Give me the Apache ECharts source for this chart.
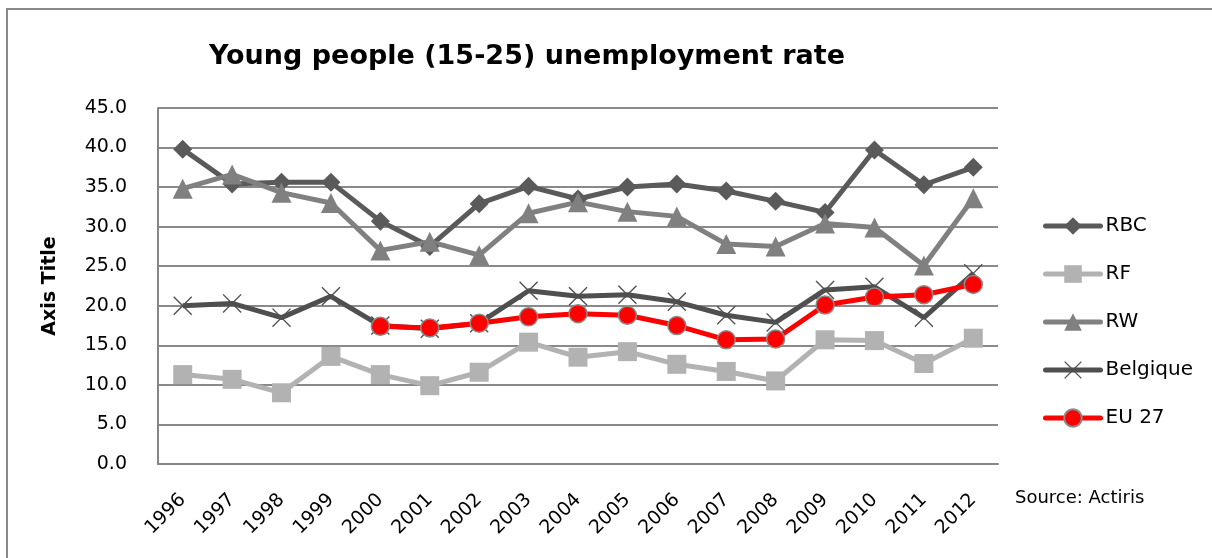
<!DOCTYPE html>
<html>
<head>
<meta charset="utf-8">
<script src="https://cdn.jsdelivr.net/npm/echarts@6/dist/echarts.min.js"></script>
<style>
html,body{margin:0;padding:0;background:#fff;}
#chart{width:1212px;height:558px;}
</style>
</head>
<body>
<div id="chart"></div>
<script>
const years = ['1996','1997','1998','1999','2000','2001','2002','2003','2004','2005','2006','2007','2008','2009','2010','2011','2012'];
const rbc = [39.8,35.4,35.6,35.6,30.7,27.5,32.9,35.1,33.5,35.0,35.4,34.5,33.2,31.8,39.7,35.3,37.5];
const rf = [11.3,10.7,9.0,13.6,11.3,9.9,11.6,15.4,13.5,14.2,12.6,11.7,10.5,15.7,15.6,12.7,15.9];
const rw = [34.8,36.6,34.3,33.0,27.0,28.1,26.4,31.7,33.1,31.9,31.3,27.8,27.5,30.4,29.9,25.1,33.6];
const belgique = [20.0,20.3,18.5,21.2,17.5,17.1,17.8,21.9,21.2,21.4,20.5,18.8,17.9,22.0,22.4,18.5,24.1];
const eu27 = [null,null,null,null,17.4,17.2,17.8,18.6,19.0,18.8,17.5,15.7,15.8,20.1,21.1,21.4,22.7];
const yTicks = ['0.0','5.0','10.0','15.0','20.0','25.0','30.0','35.0','40.0','45.0'];

const FONT = '"DejaVu Sans", sans-serif';
const xSym = 'path://M0,1 L1,0 L10,9 L19,0 L20,1 L11,10 L20,19 L19,20 L10,11 L1,20 L0,19 L9,10 Z';

const chart = echarts.init(document.getElementById('chart'), null, {renderer:'canvas'});
chart.setOption({
  animation:false,
  backgroundColor:'#ffffff',
  textStyle:{fontFamily:FONT},
  grid:{left:158, right:214, top:108, bottom:94, containLabel:false},
  graphic:[
    {type:'rect', shape:{x:7, y:9, width:1400, height:800}, style:{fill:'none', stroke:'#8a8a8a', lineWidth:2}, silent:true, z:0},
    {type:'text', x:527, y:57, style:{text:'Young people (15-25) unemployment rate', font:'bold 27px '+FONT, fill:'#000', textAlign:'center', textVerticalAlign:'middle'}},
    {type:'text', x:1015, y:498, style:{text:'Source: Actiris', font:'18px '+FONT, fill:'#000', textAlign:'left', textVerticalAlign:'middle'}}
  ],
  legend:{
    orient:'vertical', left:1038, top:210, itemWidth:55, itemHeight:22, itemGap:26,
    lineStyle:{width:5, cap:'round'},
    textStyle:{fontSize:20, color:'#000', fontFamily:FONT, lineHeight:22},
    data:['RBC','RF','RW','Belgique','EU 27']
  },
  xAxis:{
    type:'category', data:years, boundaryGap:true,
    axisLine:{lineStyle:{color:'#868686', width:2}},
    axisTick:{show:false},
    axisLabel:{rotate:45, fontSize:19, color:'#000', margin:33, interval:0, fontFamily:FONT}
  },
  yAxis:{
    type:'value', min:0, max:45, interval:5,
    name:'Axis Title', nameLocation:'middle', nameRotate:90, nameGap:98,
    nameTextStyle:{fontSize:19, fontWeight:'bold', color:'#000', fontFamily:FONT},
    axisLine:{show:true, lineStyle:{color:'#868686', width:2}},
    axisTick:{show:false},
    axisLabel:{fontSize:19, color:'#000', margin:31, fontFamily:FONT, formatter:(v)=>yTicks[Math.round(v/5)]},
    splitLine:{lineStyle:{color:'#8a8a8a', width:2}}
  },
  series:[
    {name:'RBC', type:'line', data:rbc, symbol:'diamond', symbolSize:19,
     lineStyle:{color:'#5a5a5a', width:5}, itemStyle:{color:'#5a5a5a'}},
    {name:'RF', type:'line', data:rf, symbol:'rect', symbolSize:19,
     lineStyle:{color:'#b2b2b2', width:5}, itemStyle:{color:'#b2b2b2'}},
    {name:'RW', type:'line', data:rw, symbol:'triangle', symbolSize:20,
     lineStyle:{color:'#808080', width:5}, itemStyle:{color:'#808080'}},
    {name:'Belgique', type:'line', data:belgique, symbol:xSym, symbolSize:19,
     lineStyle:{color:'#4f4f4f', width:5}, itemStyle:{color:'#4f4f4f'}},
    {name:'EU 27', type:'line', data:eu27, symbol:'circle', symbolSize:18, connectNulls:false,
     lineStyle:{color:'#ff0000', width:5}, itemStyle:{color:'#ff0000', borderColor:'#8a8a8a', borderWidth:1.5}}
  ]
});
</script>
</body>
</html>
